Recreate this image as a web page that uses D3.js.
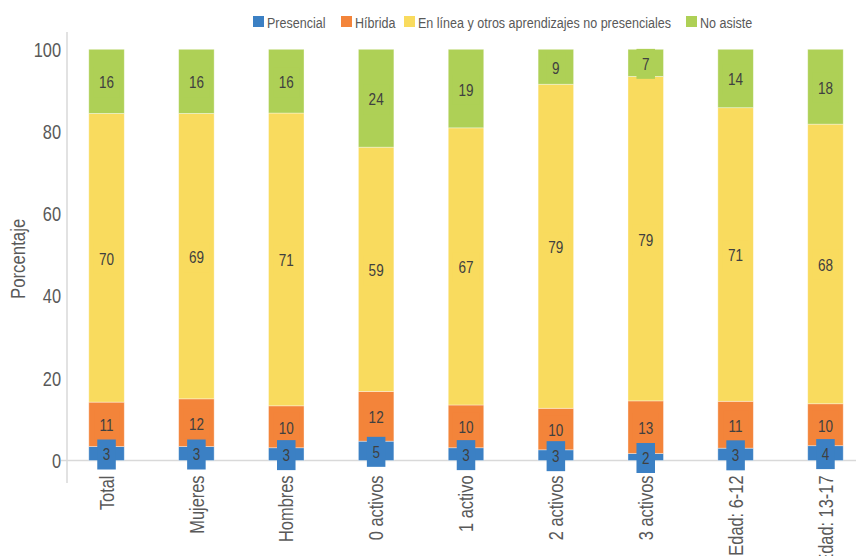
<!DOCTYPE html>
<html><head><meta charset="utf-8">
<script src="https://cdn.jsdelivr.net/npm/d3@7"></script>
<style>
html,body{margin:0;padding:0;background:#fff;}
svg{display:block;font-family:"Liberation Sans",Arial,sans-serif;}
</style></head>
<body><svg id="chart" width="856" height="556"></svg>
<script>
const categories = ["Total","Mujeres","Hombres","0 activos","1 activo","2 activos","3 activos","Edad: 6-12","Edad: 13-17"];
const seriesNames = ["Presencial","Híbrida","En línea y otros aprendizajes no presenciales","No asiste"];
const seriesColors = ["#3B80C4","#F3843A","#F9DB5E","#AED056"];
const presencial = [3.4,3.4,3.1,4.7,3.1,2.6,1.7,3.0,3.6];
const hibrida    = [10.8,11.6,10.2,12.1,10.4,10.1,12.8,11.4,10.2];
const enLinea    = [70.2,69.4,71.2,59.4,67.4,78.8,78.9,71.4,68.0];
const noAsiste   = [15.6,15.6,15.5,23.8,19.1,8.5,6.6,14.2,18.2];
const labPresencial = [3,3,3,5,3,3,2,3,4];
const labHibrida    = [11,12,10,12,10,10,13,11,10];
const labEnLinea    = [70,69,71,59,67,79,79,71,68];
const labNoAsiste   = [16,16,16,24,19,9,7,14,18];
const yTicks = [0,20,40,60,80,100];
const yTitle = "Porcentaje";

const values = [presencial,hibrida,enLinea,noAsiste];
const labels = [labPresencial,labHibrida,labEnLinea,labNoAsiste];
const SX = 0.82; // horizontal condensing of text glyphs

const svg = d3.select("#chart");
const x = d3.scaleBand().domain(categories).range([61.6,870.4]).paddingInner(0.605).paddingOuter(0.3025);
const y = d3.scaleLinear().domain([0,100]).range([460.5,49.3]);

// axis lines
svg.append("line").attr("x1",67).attr("x2",67).attr("y1",32).attr("y2",483)
  .attr("stroke","#d9d9d9").attr("stroke-width",1.5);
svg.append("line").attr("x1",61).attr("x2",856).attr("y1",y(0)).attr("y2",y(0))
  .attr("stroke","#d9d9d9").attr("stroke-width",1.5);

// y tick labels
const yAxis = d3.axisLeft(y).tickValues(yTicks).tickSize(0).tickPadding(0);
const ya = svg.append("g").attr("transform","translate(61,0)").call(yAxis);
ya.select(".domain").remove();
ya.selectAll("text").attr("font-size",20).attr("fill","#595959")
  .attr("font-family","'Liberation Sans',Arial,sans-serif").attr("dy","0.34em")
  .attr("transform",`scale(${SX},1)`);

// y title
svg.append("text").attr("transform",`translate(25,${(y(0)+y(100))/2+4}) rotate(-90) scale(${SX},1)`)
  .attr("text-anchor","middle").attr("font-size",20.5).attr("fill","#595959").text(yTitle);

// stacked data
const rows = categories.map((c,i)=>{const o={cat:c}; seriesNames.forEach((s,k)=>o[s]=values[k][i]); return o;});
const stack = d3.stack().keys(seriesNames)(rows);

const g = svg.append("g");
stack.forEach((layer,k)=>{
  g.selectAll(null).data(layer).enter().append("rect")
    .attr("x",d=>x(d.data.cat)).attr("width",x.bandwidth())
    .attr("y",d=>y(d[1])).attr("height",d=>y(d[0])-y(d[1]))
    .attr("fill",seriesColors[k])
    .attr("stroke","#ffffff").attr("stroke-opacity",0.45).attr("stroke-width",0.8);
});

// data labels (draw last series first so first series boxes on top)
for(let k=stack.length-1;k>=0;k--){
  const layer = stack[k];
  layer.forEach((d,i)=>{
    const cx = x(d.data.cat)+x.bandwidth()/2;
    const cy = (y(d[0])+y(d[1]))/2+1;
    const lg = svg.append("g").attr("transform",`translate(${cx},${cy})`);
    const rect = lg.append("rect").attr("fill",seriesColors[k]);
    const t = lg.append("text").attr("text-anchor","middle").attr("dy","0.36em")
      .attr("transform",`scale(${SX},1)`)
      .attr("font-size",16.5).attr("fill","#404040").text(labels[k][i]);
    const w = t.node().getComputedTextLength()*SX+11;
    rect.attr("x",-w/2).attr("y",-15).attr("width",w).attr("height",30);
  });
}

// category labels
categories.forEach(c=>{
  svg.append("text").attr("transform",`translate(${x(c)+x.bandwidth()/2},475.5) rotate(-90) scale(${SX},1)`)
    .attr("text-anchor","end").attr("dy","0.36em").attr("font-size",20).attr("fill","#595959").text(c);
});

// legend
const legX = [253,341,404,686];
seriesNames.forEach((s,k)=>{
  svg.append("rect").attr("x",legX[k]).attr("y",16).attr("width",11).attr("height",11).attr("fill",seriesColors[k]);
  svg.append("text").attr("transform",`translate(${legX[k]+14},27.5) scale(${SX},1)`)
    .attr("font-size",15.3).attr("fill","#595959").text(s);
});
</script></body></html>
